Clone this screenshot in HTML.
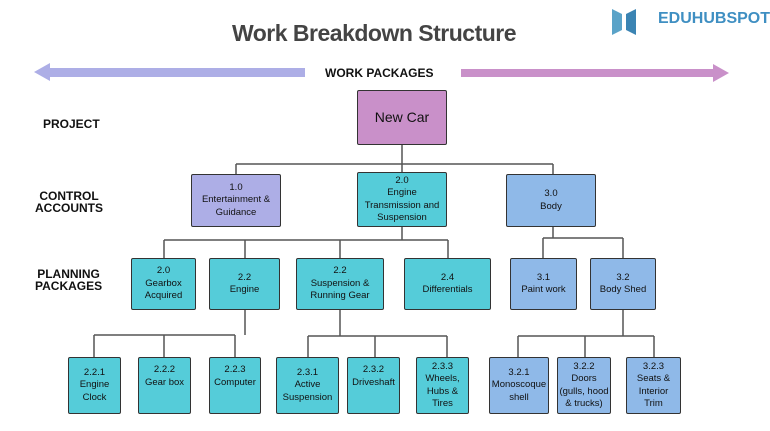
<!DOCTYPE html>
<html><head><meta charset="utf-8"><style>
body{margin:0;width:770px;height:431px;background:#fff;position:relative;overflow:hidden;font-family:"Liberation Sans",sans-serif}
.b{position:absolute;border:1.5px solid #333;border-radius:2px;box-sizing:border-box;display:flex;align-items:center;justify-content:center;text-align:center;font-size:9.5px;line-height:12.5px;color:#111}
.p{background:#c990c9}.l{background:#adaee6}.c{background:#55ccd9}.u{background:#8fb9e8}
.t{position:absolute;font-weight:bold;font-size:12px;line-height:12px;color:#111}
</style></head><body>
<svg width="770" height="431" style="position:absolute;left:0;top:0">
<polygon points="34,72 50,63 50,68 305,68 305,77 50,77 50,81" fill="#adaee6"/>
<polygon points="729,73 713,64 713,69 461,69 461,77 713,77 713,82" fill="#c990c9"/>
<polygon points="612,9 622,14 622,30 612,35" fill="#5aa3c8"/>
<polygon points="636,9 626,14 626,30 636,35" fill="#3b84b3"/>
<g stroke="#555" stroke-width="1.5" fill="none">
<path d="M402,145V174M236,164H553M236,164V174M553,164V174"/>
<path d="M402,227V240M164,240H448M164,240V258M245,240V258M340,240V258M448,240V258"/>
<path d="M553,227V238M543,238H623M543,238V258M623,238V258"/>
<path d="M245,310V335M94,335H235M94,335V357M164,335V357M235,335V357"/>
<path d="M340,310V336M308,336H447M308,336V357M375,336V357M447,336V357"/>
<path d="M623,310V336M518,336H654M518,336V357M585,336V357M654,336V357"/>
</g></svg>
<div style="position:absolute;left:0;width:748px;top:20px;text-align:center;font-size:23px;font-weight:bold;color:#444;letter-spacing:-0.5px">Work Breakdown Structure</div>
<div style="position:absolute;left:658px;top:10px;font-size:16px;font-weight:bold;color:#3f8fc2">EDUHUBSPOT</div>
<div class="t" style="left:325px;top:67px">WORK PACKAGES</div>
<div class="t" style="left:43px;top:118px">PROJECT</div>
<div class="t" style="left:35px;top:190px;text-align:center">CONTROL<br>ACCOUNTS</div>
<div class="t" style="left:35px;top:268px;text-align:center">PLANNING<br>PACKAGES</div>
<div class="b p" style="left:357px;top:90px;width:90px;height:55px;font-size:14px">New Car</div>
<div class="b l" style="left:191px;top:174px;width:90px;height:53px">1.0<br>Entertainment &amp;<br>Guidance</div>
<div class="b c" style="left:357px;top:172px;width:90px;height:55px">2.0<br>Engine<br>Transmission and<br>Suspension</div>
<div class="b u" style="left:506px;top:174px;width:90px;height:53px">3.0<br>Body</div>
<div class="b c" style="left:131px;top:258px;width:65px;height:52px">2.0<br>Gearbox<br>Acquired</div>
<div class="b c" style="left:209px;top:258px;width:71px;height:52px">2.2<br>Engine</div>
<div class="b c" style="left:296px;top:258px;width:88px;height:52px">2.2<br>Suspension &amp;<br>Running Gear</div>
<div class="b c" style="left:404px;top:258px;width:87px;height:52px">2.4<br>Differentials</div>
<div class="b u" style="left:510px;top:258px;width:67px;height:52px">3.1<br>Paint work</div>
<div class="b u" style="left:590px;top:258px;width:66px;height:52px">3.2<br>Body Shed</div>
<div class="b c" style="left:68px;top:357px;width:53px;height:57px">2.2.1<br>Engine<br>Clock</div>
<div class="b c" style="left:138px;top:357px;width:53px;height:57px;align-items:flex-start;padding-top:6px">2.2.2<br>Gear box</div>
<div class="b c" style="left:209px;top:357px;width:52px;height:57px;align-items:flex-start;padding-top:6px">2.2.3<br>Computer</div>
<div class="b c" style="left:276px;top:357px;width:63px;height:57px">2.3.1<br>Active<br>Suspension</div>
<div class="b c" style="left:347px;top:357px;width:53px;height:57px;align-items:flex-start;padding-top:6px">2.3.2<br>Driveshaft</div>
<div class="b c" style="left:416px;top:357px;width:53px;height:57px">2.3.3<br>Wheels,<br>Hubs &amp;<br>Tires</div>
<div class="b u" style="left:489px;top:357px;width:60px;height:57px">3.2.1<br>Monoscoque<br>shell</div>
<div class="b u" style="left:557px;top:357px;width:54px;height:57px">3.2.2<br>Doors<br>(gulls, hood<br>&amp; trucks)</div>
<div class="b u" style="left:626px;top:357px;width:55px;height:57px">3.2.3<br>Seats &amp;<br>Interior<br>Trim</div>
</body></html>
